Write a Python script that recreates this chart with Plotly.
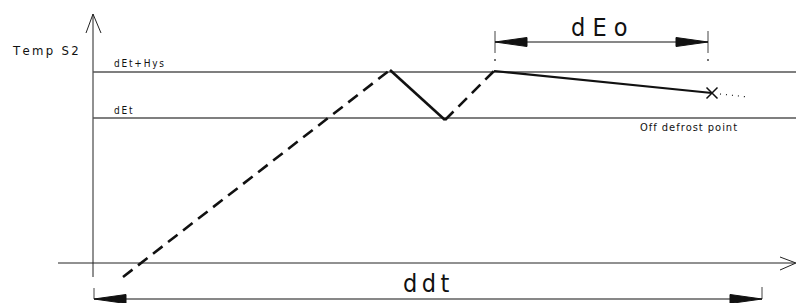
import plotly.graph_objects as go

# ---- diagram data (in diagram units: x = time, y = temperature, screen-like) ----
axis_v_x = [93, 93]
axis_v_y = [277, 14]
axis_v_head_x = [86, 93, 101]
axis_v_head_y = [33, 14, 33]
axis_h_x = [58, 795]
axis_h_y = [263, 263]
axis_h_head_x = [780, 796, 780]
axis_h_head_y = [257, 263, 270]

level_names = ["dEt+Hys", "dEt"]
level_y = [72, 118]
level_x = [93, 796]

# temperature curve: segments (dashed = heater on, solid = off)
seg_dash1_x = [123, 390]
seg_dash1_y = [277, 70]
seg_solid1_x = [390, 445]
seg_solid1_y = [70, 120]
seg_dash2_x = [445, 494]
seg_dash2_y = [120, 71]
seg_solid2_x = [494, 712]
seg_solid2_y = [71, 93]
end_point = (712, 93)
tail_x = [720, 748]
tail_y = [94, 97]

# dimension dEo
deo_x = [495, 708]
deo_y = 42
deo_tick_y = [31, 53]
deo_dot_y = 60
# dimension ddt
ddt_x = [94, 762]
ddt_y = 299
ddt_tick_y = [[288, 299], [287, 299]]
arrow_len = 32
arrow_half = 4.5

BLACK = "#111111"
GRAY = "#555555"
NARROW = "Liberation Sans Narrow, Arial Narrow, DejaVu Sans Condensed, sans-serif"


def sp(s, sep="\u2009"):
    return sep.join(list(s))


fig = go.Figure()


def line(x, y, color=BLACK, width=1, dash="solid"):
    fig.add_trace(go.Scatter(x=x, y=y, mode="lines", hoverinfo="skip",
                             line=dict(color=color, width=width, dash=dash)))


def tri(tip_x, y, direction):
    base = tip_x + direction * arrow_len
    fig.add_trace(go.Scatter(x=[tip_x, base, base, tip_x], y=[y, y - arrow_half, y + arrow_half, y],
                             mode="lines", fill="toself", fillcolor=BLACK,
                             line=dict(color=BLACK, width=1), hoverinfo="skip"))


# axes
line(axis_v_x, axis_v_y, "#222", 1)
line(axis_v_head_x, axis_v_head_y, "#222", 1)
line(axis_h_x, axis_h_y, "#222", 1)
line(axis_h_head_x, axis_h_head_y, "#222", 1)

# levels
for ly in level_y:
    line(level_x, [ly, ly], GRAY, 1.3)

# curve
line(seg_dash1_x, seg_dash1_y, BLACK, 2.6, "12px,7px")
line(seg_solid1_x, seg_solid1_y, BLACK, 2.6)
line(seg_dash2_x, seg_dash2_y, BLACK, 2.6, "12px,7px")
line(seg_solid2_x, seg_solid2_y, BLACK, 2.2)
fig.add_trace(go.Scatter(x=[end_point[0]], y=[end_point[1]], mode="markers", hoverinfo="skip",
                         marker=dict(symbol="x-thin", size=11, line=dict(color=BLACK, width=1.5))))
line(tail_x, tail_y, BLACK, 1.2, "1px,5px")

# dEo dimension
line(deo_x, [deo_y, deo_y], BLACK, 1)
for tx in deo_x:
    line([tx, tx], deo_tick_y, "#444", 1)
fig.add_trace(go.Scatter(x=deo_x, y=[deo_dot_y] * 2, mode="markers", hoverinfo="skip",
                         marker=dict(size=2, color="#444")))
tri(deo_x[0], deo_y, 1)
tri(deo_x[1], deo_y, -1)

# ddt dimension
line(ddt_x, [ddt_y, ddt_y], BLACK, 1)
for tx, ty in zip(ddt_x, ddt_tick_y):
    line([tx, tx], ty, "#444", 1)
tri(ddt_x[0], ddt_y, 1)
tri(ddt_x[1], ddt_y, -1)

# texts
annos = [
    dict(x=10, y=50, text=sp("Temp S2"), xanchor="left", size=13),
    dict(x=112, y=63, text=sp(level_names[0]), xanchor="left", size=10),
    dict(x=112, y=110, text=sp(level_names[1]), xanchor="left", size=10),
    dict(x=638, y=127, text=sp("Off defrost point", "\u200a"), xanchor="left", size=11),
    dict(x=599, y=27, text=sp("dEo", " "), xanchor="center", size=25),
    dict(x=426, y=283, text=sp("ddt", "\u2009"), xanchor="center", size=25),
]
for a in annos:
    fig.add_annotation(x=a["x"], y=a["y"], text=a["text"], xanchor=a["xanchor"], yanchor="middle",
                       showarrow=False, font=dict(family=NARROW, size=a["size"], color=BLACK))

fig.update_layout(width=796, height=303, margin=dict(l=0, r=0, t=0, b=0),
                  paper_bgcolor="white", plot_bgcolor="white", showlegend=False,
                  xaxis=dict(range=[0, 796], visible=False, fixedrange=True),
                  yaxis=dict(range=[303, 0], visible=False, fixedrange=True))
fig.write_html("out.html", config={"displayModeBar": False},
               post_script="document.body.style.margin='0';document.body.style.overflow='hidden';")
